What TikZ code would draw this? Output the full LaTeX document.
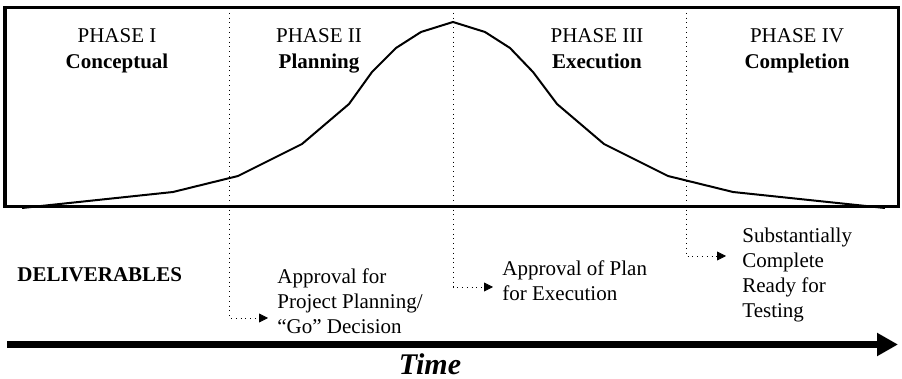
\documentclass[tikz,border=0pt]{standalone}
\usepackage{fontspec}
\setmainfont{Liberation Serif}
\usetikzlibrary{arrows.meta}
\usetikzlibrary{positioning}

\tikzstyle{phase} = [inner sep=0pt, align=center, anchor=north, font=\fontsize{10.5}{13}\selectfont]
\tikzstyle{deliv} = [inner sep=0pt, align=left, anchor=north west, font=\fontsize{10.5}{12.5}\selectfont]
\tikzstyle{dotline} = [dotted, line width=0.4pt, -{Triangle[length=4.5pt,width=4.5pt]}]
\tikzstyle{timearrow} = [line width=3.2pt, -{Triangle[length=10.5pt,width=11pt]}]

\begin{document}
\begin{tikzpicture}[x=0.5pt,y=-0.5pt]
\useasboundingbox (0,0) rectangle (902,379);

% phase box and curve
\draw [line width=1.5pt] (5,8) rectangle (898,207);
\draw [line width=1pt, line join=round] plot coordinates {(22,208) (173,192) (238,176) (302,144) (349,104) (372,72) (396,48) (421,32) (453,22) (485,32) (510,48) (533,72) (557,104) (604,144) (668,176) (733,192) (885,208)};

\node (ph1) [phase] at (117,28) {PHASE I\\\textbf{Conceptual}};
\node (ph2) [phase] at (319,28) {PHASE II\\\textbf{Planning}};
\node (ph3) [phase] at (597,28) {PHASE III\\\textbf{Execution}};
\node (ph4) [phase] at (797,28) {PHASE IV\\\textbf{Completion}};

% deliverables
\node (deliv) [anchor=base west, inner sep=0pt, font=\fontsize{10.5}{12.5}\selectfont] at (17,282) {\textbf{DELIVERABLES}};
\node (appr1) [deliv] at (277,268) {Approval for\\Project Planning/\\``Go'' Decision};
\node (appr2) [deliv] at (502,260) {Approval of Plan\\for Execution};
\node (appr3) [deliv] at (742,228) {Substantially\\Complete\\Ready for\\Testing};

\coordinate (top1) at (229,8);
\coordinate (top2) at (453,8);
\coordinate (top3) at (686,8);
\coordinate (tip1) at (268,318);
\coordinate (tip2) at (493,287);
\coordinate (tip3) at (726,256);

\draw [dotline] (top1) |- (tip1);
\draw [dotline] (top2) |- (tip2);
\draw [dotline] (top3) |- (tip3);

% time axis
\coordinate (t0) at (7,344.5);
\coordinate (t1) at (898,344.5);
\draw [timearrow] (t0) -- (t1);
\node (time) [anchor=base, inner sep=0pt, font=\fontsize{15}{17}\selectfont\bfseries\itshape] at (430,375) {Time};

\end{tikzpicture}
\end{document}
